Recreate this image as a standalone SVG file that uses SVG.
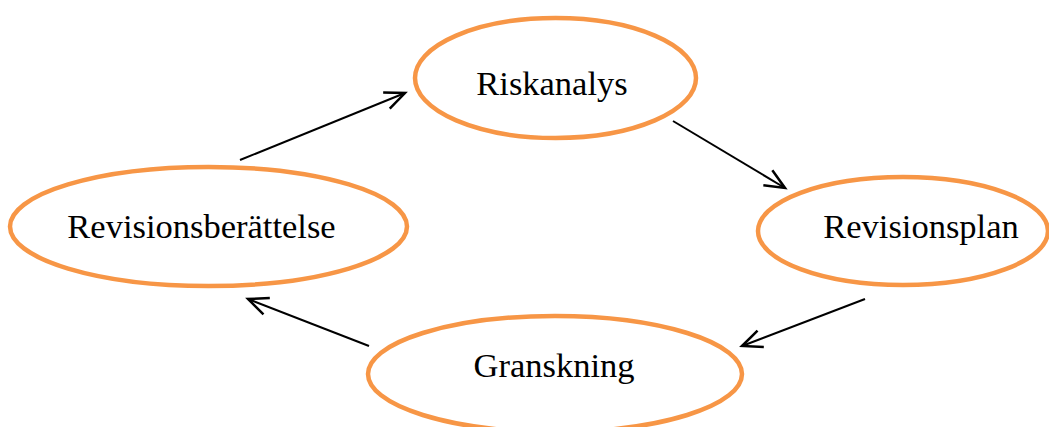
<svg xmlns="http://www.w3.org/2000/svg" width="1049" height="427" viewBox="0 0 1049 427">
<style>
.node ellipse{fill:#fff;stroke:#F79646;stroke-width:4.5}
.node text{font-family:"Liberation Serif","Times New Roman",serif;font-size:34.5px;fill:#000;text-anchor:middle}
.conn line{stroke:#000;stroke-width:2;marker-end:url(#arr)}
</style>
<defs>
<marker id="arr" markerUnits="userSpaceOnUse" markerWidth="30" markerHeight="30" viewBox="-20 -10 24 20" refX="0" refY="0" orient="auto">
<path d="M-16,-7 L0,0 L-16,7" fill="none" stroke="#000" stroke-width="2"/>
</marker>
</defs>
<g id="riskanalys" class="node"><ellipse cx="555.5" cy="78" rx="140.5" ry="60"/><text x="552" y="95">Riskanalys</text></g>
<g id="revisionsplan" class="node"><ellipse cx="903" cy="231" rx="145" ry="54"/><text x="921" y="238">Revisionsplan</text></g>
<g id="granskning" class="node"><ellipse cx="555" cy="374" rx="187" ry="58"/><text x="554" y="377">Granskning</text></g>
<g id="revisionsberattelse" class="node"><ellipse cx="208.5" cy="226.5" rx="198.5" ry="59.5"/><text x="201.5" y="238">Revisionsberättelse</text></g>
<g id="connectors" class="conn">
<line x1="240" y1="160" x2="405" y2="93"/>
<line x1="673" y1="121" x2="785" y2="188"/>
<line x1="865" y1="299" x2="742" y2="346"/>
<line x1="369" y1="346" x2="248" y2="299"/>
</g>
</svg>
